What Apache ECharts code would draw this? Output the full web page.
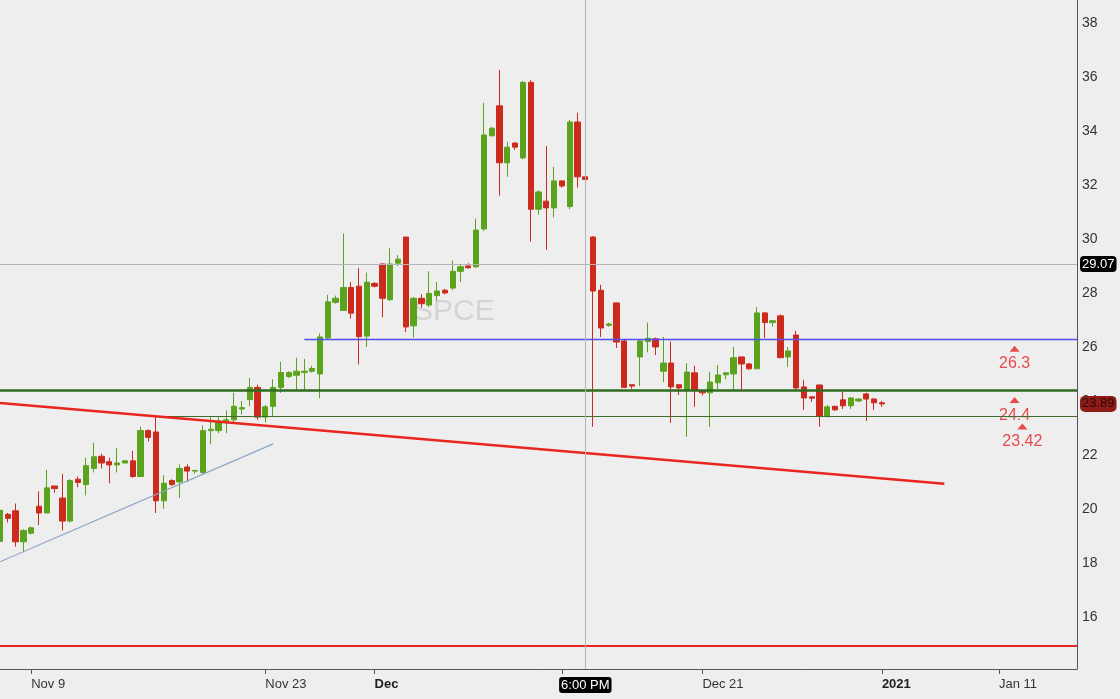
<!DOCTYPE html>
<html lang="en">
<head>
    <meta charset="UTF-8">
    <title>SPCE</title>
    <script src="https://cdn.jsdelivr.net/npm/echarts@6/dist/echarts.min.js"></script>
    <style>
        html, body {
            width: 100%;
            height: 100%;
            margin: 0;
            padding: 0;
            overflow: hidden;
            background-color: #eeeeee;
        }
        #chart {
            width: 1120px;
            height: 699px;
        }
    </style>
</head>
<body>
<div id="chart"></div>
<script>
    // Candles: [open, close, low, high]
    var candles = [
        [18.8, 19.95, 18.6, 20.2], [19.8, 19.65, 19.5, 19.85], [19.93, 18.78, 18.6, 20.2], [18.78, 19.2, 18.4, 19.25],
        [19.1, 19.3, 19.05, 19.35], [20.1, 19.85, 19.4, 20.65], [19.85, 20.78, 19.85, 21.45], [20.85, 20.75, 20.6, 20.85],
        [20.4, 19.55, 19.2, 21.3], [19.55, 21.05, 19.5, 21.1], [21.1, 20.98, 20.8, 21.2], [20.9, 21.6, 20.5, 21.9],
        [21.5, 21.93, 21.35, 22.45], [21.95, 21.7, 21.5, 22.05], [21.75, 21.63, 20.95, 21.9], [21.63, 21.7, 21.35, 22.25],
        [21.7, 21.78, 21.7, 21.8], [21.78, 21.2, 21.15, 22.15], [21.2, 22.9, 21.2, 23.05], [22.9, 22.65, 22.5, 22.95],
        [22.85, 20.3, 19.85, 23.45], [20.3, 20.95, 20.0, 21.25], [21.05, 20.9, 20.85, 21.1], [21.0, 21.5, 20.4, 21.65],
        [21.55, 21.4, 21.0, 21.65], [21.4, 21.42, 21.3, 21.45], [21.35, 22.9, 21.3, 23.1], [22.9, 22.95, 22.4, 23.4],
        [22.9, 23.25, 22.8, 23.4], [23.25, 23.3, 22.8, 23.65], [23.3, 23.8, 23.2, 24.3], [23.7, 23.75, 23.5, 24.0],
        [24.05, 24.5, 23.8, 24.85], [24.5, 23.4, 23.3, 24.6], [23.4, 23.78, 23.2, 23.85], [23.8, 24.5, 23.4, 24.8],
        [24.5, 25.05, 24.3, 25.45], [24.9, 25.05, 24.85, 25.1], [24.95, 25.1, 24.4, 25.6], [25.05, 25.1, 24.4, 25.55],
        [25.1, 25.2, 25.05, 25.3], [25.0, 26.37, 24.1, 26.5], [26.33, 27.67, 26.3, 27.93], [27.65, 27.8, 27.6, 27.9],
        [27.35, 28.2, 27.35, 30.2], [28.2, 27.25, 27.05, 28.4], [28.25, 26.38, 25.35, 28.93], [26.4, 28.4, 26.0, 28.75],
        [28.35, 28.25, 28.2, 28.4], [29.07, 27.8, 27.1, 29.1], [27.75, 29.07, 27.7, 29.65], [29.1, 29.25, 29.0, 29.4],
        [30.07, 26.74, 26.55, 30.07], [26.78, 27.8, 26.35, 27.85], [27.8, 27.6, 27.45, 27.95], [27.55, 27.98, 27.48, 28.8],
        [27.9, 28.07, 27.7, 28.4], [28.1, 28.0, 27.95, 28.15], [28.18, 28.8, 28.1, 29.2], [28.8, 28.97, 28.4, 29.07],
        [29.0, 28.93, 28.9, 29.1], [28.97, 30.33, 28.92, 30.75], [30.37, 33.85, 30.3, 35.04], [33.82, 34.1, 33.8, 34.15],
        [34.93, 32.82, 31.6, 36.26], [32.82, 33.4, 32.3, 33.6], [33.55, 33.4, 33.3, 33.58], [33.0, 35.8, 32.95, 35.85],
        [35.8, 31.1, 29.9, 35.88], [31.1, 31.74, 30.9, 31.8], [31.4, 31.15, 29.6, 33.44], [31.15, 32.15, 30.8, 32.67],
        [32.15, 31.96, 31.9, 32.16], [31.2, 34.33, 31.1, 34.4], [34.33, 32.3, 31.9, 34.67], [32.3, 32.2, 32.07, 32.35],
        [30.07, 28.07, 23.04, 30.1], [28.1, 26.7, 26.37, 28.3], [26.8, 26.85, 26.75, 26.9], [27.63, 26.18, 25.96, 27.65],
        [26.22, 24.5, 24.48, 26.3], [24.6, 24.55, 24.45, 24.6], [25.63, 26.22, 24.55, 26.25], [26.2, 26.32, 25.8, 26.9],
        [26.3, 26.0, 25.7, 26.35], [25.1, 25.4, 24.7, 26.37], [25.4, 24.52, 23.19, 26.2], [24.6, 24.48, 24.22, 24.6],
        [24.4, 25.07, 22.67, 25.4], [25.04, 24.4, 23.78, 25.3], [24.37, 24.3, 24.2, 24.4], [24.3, 24.7, 23.04, 25.07],
        [24.67, 24.96, 24.44, 25.33], [24.97, 25.04, 24.8, 25.07], [25.0, 25.6, 24.4, 26.0], [25.63, 25.37, 24.44, 25.63],
        [25.37, 25.19, 25.15, 25.4], [25.19, 27.26, 25.19, 27.48], [27.26, 26.9, 26.33, 27.3], [26.9, 26.97, 26.75, 27.0],
        [27.15, 25.6, 25.6, 27.2], [25.63, 25.85, 25.26, 26.0], [26.44, 24.48, 24.37, 26.6], [24.52, 24.11, 23.67, 24.78],
        [24.15, 24.1, 23.96, 24.15], [24.59, 23.44, 23.04, 24.6], [23.44, 23.78, 23.38, 23.85], [23.8, 23.67, 23.63, 23.82],
        [24.04, 23.82, 23.7, 24.33], [23.82, 24.11, 23.7, 24.15], [24.0, 24.07, 23.95, 24.1], [24.26, 24.07, 23.26, 24.3],
        [24.07, 23.93, 23.67, 24.1], [23.93, 23.89, 23.78, 24.0]
    ];

    // Number of bar slots on the time axis (includes empty space after the last bar)
    var slotCount = 139;

    // Date ticks: slot index, text, bold flag
    var tickIdx = [4, 34, 48, 72, 90, 113, 128];
    var tickText = ['Nov 9', 'Nov 23', 'Dec', '', 'Dec 21', '2021', 'Jan 11'];
    var tickBold = [false, false, true, false, false, true, false];

    // Visible price range
    var priceMin = 14.07;
    var priceMax = 38.85;

    // Drawn levels
    var resistance = 26.3;      // blue, starts at slot 39
    var resistanceFrom = 39;
    var supportMain = 24.4;     // thick green, full width
    var supportLow = 23.42;     // thin green, starts at slot 20
    var supportLowFrom = 20;
    var floorLine = 14.93;      // red, full width

    // Trend lines: [slot, price] pairs
    var redTrend = [[0, 23.92], [121, 20.93]];
    var blueTrend = [[0, 18.04], [35, 22.41]];

    // Crosshair + last price
    var crossSlot = 75;
    var crossTime = '6:00 PM';
    var crossPrice = 29.07;
    var lastPrice = 23.89;

    // Level alerts shown as small triangles on the right
    var alertSlots = [130, 130, 131];
    var alertValues = [26.3, 24.4, 23.42];

    var categories = [];
    for (var i = 0; i < slotCount; i++) categories.push(String(i));

    var UP = '#5ba31d';
    var DOWN = '#cd2a1e';
    var FONT = 'Liberation Sans, Arial, sans-serif';
    var NARROW = 'Liberation Sans Narrow, ' + FONT;

    var chart = echarts.init(document.getElementById('chart'));

    function isTick(index) {
        return tickIdx.indexOf(index) >= 0;
    }

    var option = {
        backgroundColor: '#eeeeee',
        animation: false,
        grid: { left: 0, right: 43, top: 0, bottom: 30 },
        graphic: [{
            type: 'text',
            left: 413,
            top: 297,
            z: -1,
            style: { text: 'SPCE', fontSize: 30, fontFamily: FONT, fill: '#d4d4d4' }
        }],
        xAxis: {
            type: 'category',
            data: categories,
            boundaryGap: false,
            axisLine: { show: true, lineStyle: { color: '#555', width: 1 } },
            axisTick: {
                show: true,
                interval: function (index) { return isTick(index); },
                length: 5,
                lineStyle: { color: '#555' }
            },
            axisLabel: {
                interval: function (index) { return isTick(index); },
                align: 'left',
                margin: 9,
                color: '#333',
                fontSize: 13,
                fontFamily: NARROW,
                formatter: function (value) {
                    var k = tickIdx.indexOf(Number(value));
                    if (k < 0) return '';
                    return tickBold[k] ? '{b|' + tickText[k] + '}' : tickText[k];
                },
                rich: {
                    b: { fontWeight: 'bold', fontSize: 13, color: '#222', fontFamily: NARROW }
                }
            },
            splitLine: { show: false }
        },
        yAxis: {
            type: 'value',
            position: 'right',
            min: priceMin,
            max: priceMax,
            splitNumber: 12,
            axisLine: { show: true, lineStyle: { color: '#555', width: 1 } },
            axisTick: { show: false },
            axisLabel: {
                showMinLabel: false,
                showMaxLabel: false,
                margin: 5,
                color: '#333',
                fontSize: 14,
                fontFamily: FONT
            },
            splitLine: { show: false }
        },
        series: [
            {
                name: 'SPCE',
                type: 'candlestick',
                data: candles,
                barWidth: '74%',
                z: 3,
                itemStyle: {
                    color: UP,
                    color0: DOWN,
                    borderColor: UP,
                    borderColor0: DOWN,
                    borderWidth: 1
                },
                markLine: {
                    symbol: 'none',
                    silent: true,
                    animation: false,
                    label: { show: false },
                    data: [
                        { yAxis: floorLine, lineStyle: { color: '#e8251f', width: 2, type: 'solid' } },
                        { yAxis: supportMain, lineStyle: { color: '#2f6b1f', width: 2.5, type: 'solid' } },
                        [
                            { coord: [supportLowFrom, supportLow], lineStyle: { color: '#3d6e2c', width: 1.2, type: 'solid' } },
                            { coord: [slotCount - 1, supportLow] }
                        ],
                        [
                            { coord: [resistanceFrom, resistance], lineStyle: { color: '#4f4ff2', width: 1.3, type: 'solid' } },
                            { coord: [slotCount - 1, resistance] }
                        ],
                        [
                            { coord: redTrend[0], lineStyle: { color: '#e8251f', width: 2.5, type: 'solid' } },
                            { coord: redTrend[1] }
                        ],
                        [
                            { coord: blueTrend[0], lineStyle: { color: '#8aa6c4', width: 1.2, type: 'solid' } },
                            { coord: blueTrend[1] }
                        ],
                        {
                            yAxis: crossPrice,
                            lineStyle: { color: '#b4b4b4', width: 1, type: 'solid' },
                            label: {
                                show: true, position: 'end', distance: 3, formatter: String(crossPrice),
                                backgroundColor: '#000', color: '#fff', padding: [2, 2, 1, 2], borderRadius: 4,
                                fontSize: 13, fontFamily: FONT
                            }
                        },
                        {
                            xAxis: crossSlot,
                            lineStyle: { color: '#b4b4b4', width: 1, type: 'solid' },
                            label: {
                                show: true, position: 'start', distance: 8, formatter: crossTime,
                                backgroundColor: '#000', color: '#fff', padding: [2, 2, 1, 2], borderRadius: 3,
                                fontSize: 13, fontFamily: NARROW
                            }
                        },
                        {
                            yAxis: lastPrice,
                            lineStyle: { color: 'rgba(0,0,0,0)', width: 0 },
                            label: {
                                show: true, position: 'end', distance: 3, formatter: String(lastPrice),
                                backgroundColor: '#8e1d17', color: '#2e0605', padding: [2, 2, 1, 2], borderRadius: 5,
                                fontSize: 13, fontFamily: FONT
                            }
                        }
                    ]
                }
            },
            {
                name: 'Alerts',
                type: 'scatter',
                z: 4,
                symbol: 'triangle',
                symbolSize: [10, 6],
                symbolOffset: [0, 10],
                itemStyle: { color: '#e52222' },
                label: {
                    show: true,
                    position: 'bottom',
                    distance: 4,
                    color: '#e52222',
                    fontSize: 16,
                    fontFamily: FONT,
                    formatter: function (p) { return String(p.value[1]); }
                },
                data: alertSlots.map(function (s, k) { return [s, alertValues[k]]; })
            }
        ]
    };

    chart.setOption(option);
</script>
</body>
</html>
